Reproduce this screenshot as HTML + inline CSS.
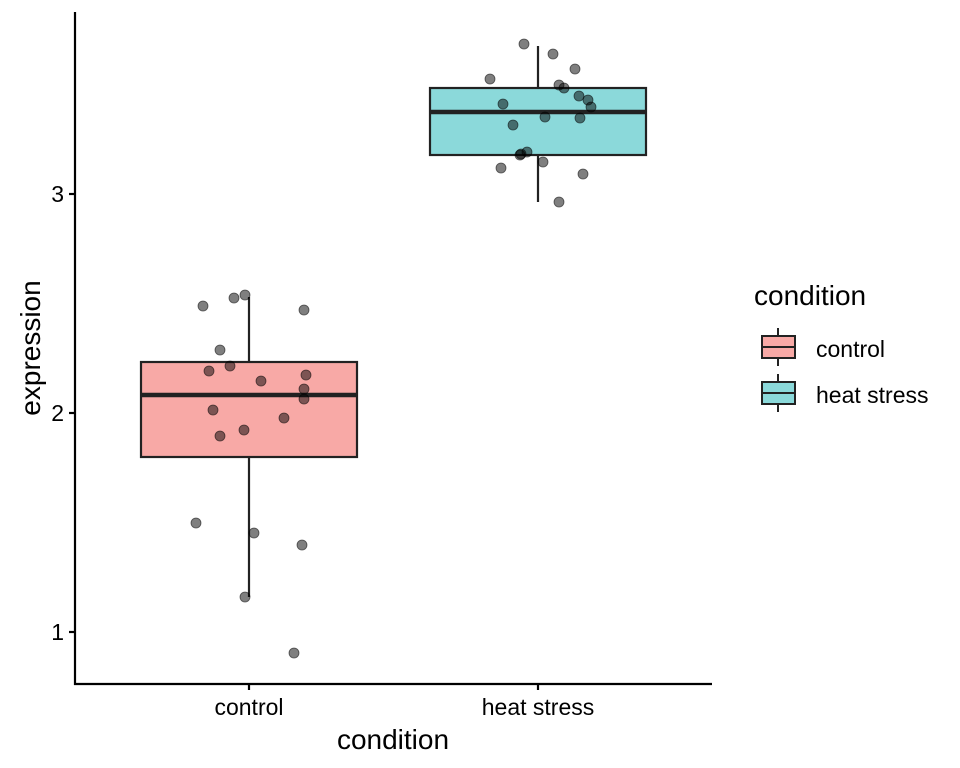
<!DOCTYPE html>
<html><head><style>body{margin:0;background:#fff}svg{display:block;font-family:"Liberation Sans",Arial,sans-serif}</style></head><body>
<svg width="960" height="768" viewBox="0 0 960 768">
<rect width="960" height="768" fill="#fff"/>
<line x1="249" y1="297" x2="249" y2="597" stroke="#222" stroke-width="2.2"/>
<rect x="141" y="362" width="216" height="95" fill="#F8A9A6" stroke="#222" stroke-width="2.2"/>
<line x1="141" y1="395" x2="357" y2="395" stroke="#222" stroke-width="4.5"/>
<line x1="538" y1="46" x2="538" y2="202" stroke="#222" stroke-width="2.2"/>
<rect x="430" y="88" width="216" height="67" fill="#8BD9DA" stroke="#222" stroke-width="2.2"/>
<line x1="430" y1="112" x2="646" y2="112" stroke="#222" stroke-width="4.5"/>
<g fill="#000" fill-opacity="0.5" stroke="#000" stroke-opacity="0.6" stroke-width="0.8">
<circle cx="203" cy="306" r="5"/><circle cx="234" cy="298" r="5"/><circle cx="245" cy="295" r="5"/><circle cx="304" cy="310" r="5"/><circle cx="220" cy="350" r="5"/><circle cx="209" cy="371" r="5"/><circle cx="230" cy="366" r="5"/><circle cx="261" cy="381" r="5"/><circle cx="306" cy="375" r="5"/><circle cx="304" cy="389" r="5"/><circle cx="304" cy="399" r="5"/><circle cx="213" cy="410" r="5"/><circle cx="284" cy="418" r="5"/><circle cx="244" cy="430" r="5"/><circle cx="220" cy="436" r="5"/><circle cx="196" cy="523" r="5"/><circle cx="254" cy="533" r="5"/><circle cx="302" cy="545" r="5"/><circle cx="245" cy="597" r="5"/><circle cx="294" cy="653" r="5"/>
<circle cx="524" cy="44" r="5"/><circle cx="553" cy="54" r="5"/><circle cx="575" cy="69" r="5"/><circle cx="490" cy="79" r="5"/><circle cx="559" cy="85" r="5"/><circle cx="564" cy="88" r="5"/><circle cx="579" cy="96" r="5"/><circle cx="588" cy="100" r="5"/><circle cx="503" cy="104" r="5"/><circle cx="591" cy="107" r="5"/><circle cx="545" cy="117" r="5"/><circle cx="580" cy="118" r="5"/><circle cx="513" cy="125" r="5"/><circle cx="521" cy="154" r="5"/><circle cx="527" cy="152" r="5"/><circle cx="543" cy="162" r="5"/><circle cx="501" cy="168" r="5"/><circle cx="583" cy="174" r="5"/><circle cx="559" cy="202" r="5"/><circle cx="520" cy="155" r="5"/>
</g>
<line x1="75" y1="12" x2="75" y2="685" stroke="#000" stroke-width="2.2"/>
<line x1="74" y1="684" x2="712" y2="684" stroke="#000" stroke-width="2.2"/>
<g stroke="#000" stroke-width="2.2"><line x1="69" y1="194" x2="75" y2="194"/><line x1="69" y1="413" x2="75" y2="413"/><line x1="69" y1="632" x2="75" y2="632"/><line x1="249" y1="684" x2="249" y2="690"/><line x1="538" y1="684" x2="538" y2="690"/></g>
<g font-size="23" fill="#000" text-anchor="end"><text x="64" y="202">3</text><text x="64" y="421">2</text><text x="64" y="640">1</text></g>
<g font-size="23" fill="#000" text-anchor="middle"><text x="249" y="715">control</text><text x="538" y="715">heat stress</text></g>
<text x="393" y="749" font-size="28" text-anchor="middle">condition</text>
<text transform="translate(40,348) rotate(-90)" font-size="28" text-anchor="middle">expression</text>
<text x="754" y="305" font-size="28">condition</text>
<line x1="778" y1="328" x2="778" y2="366" stroke="#222" stroke-width="2"/>
<rect x="762" y="336" width="33" height="22" fill="#F8A9A6" stroke="#222" stroke-width="2"/>
<line x1="762" y1="347" x2="795" y2="347" stroke="#222" stroke-width="2"/>
<line x1="778" y1="374" x2="778" y2="412" stroke="#222" stroke-width="2"/>
<rect x="762" y="382" width="33" height="22" fill="#8BD9DA" stroke="#222" stroke-width="2"/>
<line x1="762" y1="393" x2="795" y2="393" stroke="#222" stroke-width="2"/>
<g font-size="23"><text x="816" y="357">control</text><text x="816" y="403">heat stress</text></g>
</svg>
</body></html>
